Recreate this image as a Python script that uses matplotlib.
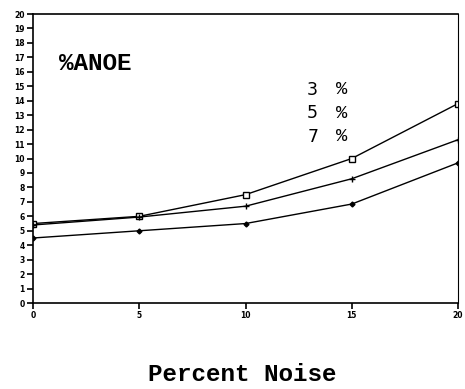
import matplotlib
matplotlib.use("Agg")
import matplotlib.pyplot as plt

# Percent noise on the x axis, %ANOE on the y axis
noise = [0, 5, 10, 15, 20]
anoe_3 = [5.5, 6.0, 7.5, 10.0, 13.8]
anoe_5 = [5.4, 5.95, 6.7, 8.6, 11.3]
anoe_7 = [4.5, 5.0, 5.5, 6.85, 9.7]
series_labels = ["3", "5", "7"]
y_ticks = list(range(0, 21))
x_ticks = [0, 5, 10, 15, 20]

fig = plt.figure(figsize=(4.65, 3.89), dpi=100)
ax = fig.add_axes([0.071, 0.221, 0.914, 0.743])

ax.plot(noise, anoe_3, color="black", lw=1.0, marker="s", ms=4,
        mfc="white", mec="black", mew=1.0)
ax.plot(noise, anoe_5, color="black", lw=1.0, marker="+", ms=5, mew=1.0)
ax.plot(noise, anoe_7, color="black", lw=1.0, marker="D", ms=2.5,
        mfc="black", mec="black")

ax.set_xlim(0, 20)
ax.set_ylim(0, 20)
ax.set_xticks(x_ticks)
ax.set_yticks(y_ticks)
ax.tick_params(axis="both", direction="out", length=4, width=1.2,
               labelsize=5.5, pad=2, color="black")
for lab in ax.get_xticklabels() + ax.get_yticklabels():
    lab.set_fontweight("bold")
for sp in ax.spines.values():
    sp.set_linewidth(1.2)
    sp.set_color("black")
ax.spines["right"].set_linewidth(0.8)

ax.text(0.06, 0.83, "%ANOE", transform=ax.transAxes,
        family="Liberation Mono", fontweight="bold", fontsize=17.5,
        ha="left", va="center")

# Series labels
for i, lab in enumerate(series_labels):
    y = 0.738 - i * 0.081
    ax.text(0.645, y, lab, transform=ax.transAxes, family="DejaVu Sans",
            fontsize=12.5, ha="left", va="center")
    ax.text(0.713, y, "%", transform=ax.transAxes, family="Liberation Mono",
            fontsize=13.5, ha="left", va="center")

fig.text(0.52, 0.036, "Percent Noise", family="Liberation Mono",
         fontweight="bold", fontsize=17.5, ha="center", va="center")

fig.savefig("out.png", dpi=100)
